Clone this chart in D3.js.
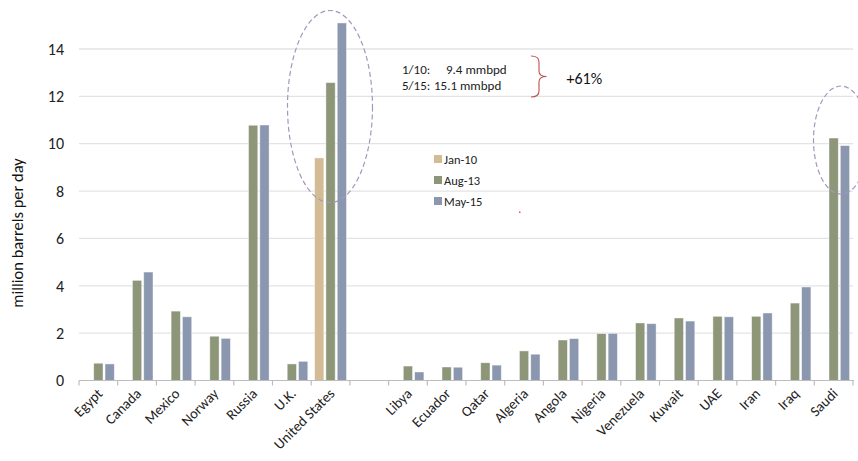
<!DOCTYPE html>
<html>
<head>
<meta charset="utf-8">
<script src="https://cdn.jsdelivr.net/npm/d3@7"></script>
<style>
  html, body { margin: 0; padding: 0; background: #fff; }
  svg { display: block; font-family: Carlito, Lato, "Open Sans", sans-serif; }
</style>
</head>
<body>
<svg id="chart" width="858" height="461"></svg>
<script>
// Crude oil production by country, million barrels per day
const categories = ["Egypt", "Canada", "Mexico", "Norway", "Russia", "U.K.", "United States", "",
  "Libya", "Ecuador", "Qatar", "Algeria", "Angola", "Nigeria", "Venezuela", "Kuwait", "UAE", "Iran", "Iraq", "Saudi"];
const seriesNames = ["Jan-10", "Aug-13", "May-15"];
const jan10 = [null, null, null, null, null, null, 9.4, null,
  null, null, null, null, null, null, null, null, null, null, null, null];
const aug13 = [0.73, 4.23, 2.93, 1.87, 10.78, 0.70, 12.58, null,
  0.61, 0.57, 0.75, 1.25, 1.71, 1.98, 2.43, 2.64, 2.71, 2.71, 3.27, 10.24];
const may15 = [0.70, 4.58, 2.69, 1.78, 10.79, 0.81, 15.1, null,
  0.36, 0.56, 0.65, 1.11, 1.77, 1.99, 2.40, 2.51, 2.69, 2.85, 3.95, 9.92];
const yTicks = [0, 2, 4, 6, 8, 10, 12, 14];
const colors = ["#D3BC95", "#8D9679", "#8B97AF"];

const svg = d3.select("#chart");
const plotLeft = 79, plotRight = 853, plotTop = 49, plotBottom = 380.5;

const x = d3.scaleBand().domain(categories.map((c, i) => i)).range([plotLeft, plotRight]).padding(0);
const xs = d3.scaleBand().domain(seriesNames).range([0, x.bandwidth()]).paddingInner(0.18).paddingOuter(0.3);
const y = d3.scaleLinear().domain([0, 14]).range([plotBottom, plotTop]);

// gridlines
svg.append("g").selectAll("line").data(yTicks.filter(t => t > 0)).join("line")
  .attr("x1", plotLeft).attr("x2", plotRight)
  .attr("y1", d => y(d)).attr("y2", d => y(d))
  .attr("stroke", "#E3E3E3").attr("stroke-width", 1.3);

// y tick labels
svg.append("g").selectAll("text").data(yTicks).join("text")
  .attr("x", 64).attr("y", d => y(d)).attr("dy", "0.36em")
  .attr("text-anchor", "end").attr("font-size", 16).attr("fill", "#222")
  .text(d => d);

// y axis title
svg.append("text")
  .attr("transform", "translate(23,233) rotate(-90)")
  .attr("text-anchor", "middle").attr("font-size", 16.5).attr("fill", "#111")
  .text("million barrels per day");

// bars
const seriesData = [jan10, aug13, may15];
seriesData.forEach((vals, si) => {
  svg.append("g").selectAll("rect")
    .data(vals.map((v, i) => ({ v, i })).filter(d => d.v != null))
    .join("rect")
    .attr("x", d => x(d.i) + xs(seriesNames[si]))
    .attr("width", xs.bandwidth())
    .attr("y", d => y(d.v))
    .attr("height", d => y(0) - y(d.v))
    .attr("fill", colors[si])
    .attr("stroke", "rgba(255,255,255,0.55)").attr("stroke-width", 0.8);
});

// x axis line and boundary ticks
svg.append("line").attr("x1", plotLeft).attr("x2", plotRight + 1)
  .attr("y1", y(0)).attr("y2", y(0)).attr("stroke", "#BDBDBD").attr("stroke-width", 1.2);
const bounds = categories.map((c, i) => x(i)).concat([plotRight]);
svg.append("g").selectAll("line").data(bounds).join("line")
  .attr("x1", d => d).attr("x2", d => d)
  .attr("y1", y(0)).attr("y2", y(0) + 5)
  .attr("stroke", "#BDBDBD").attr("stroke-width", 1.2);

// x labels
svg.append("g").selectAll("text").data(categories.map((c, i) => ({ c, i })).filter(d => d.c)).join("text")
  .attr("transform", d => `translate(${x(d.i) + x.bandwidth() / 2 + 5},${y(0) + 14}) rotate(-45)`)
  .attr("text-anchor", "end").attr("font-size", 14.5).attr("fill", "#222")
  .text(d => d.c);

// legend
const lg = svg.append("g").attr("transform", "translate(434,155)");
seriesNames.forEach((s, i) => {
  lg.append("rect").attr("x", 0).attr("y", i * 21).attr("width", 8).attr("height", 8)
    .attr("fill", colors[i]);
  lg.append("text").attr("x", 10).attr("y", i * 21 + 4).attr("dy", "0.36em")
    .attr("font-size", 12.5).attr("fill", "#222").text(s);
});

// callout on US growth
const usIdx = categories.indexOf("United States");
const usStart = jan10[usIdx], usEnd = may15[usIdx];
const ann = svg.append("g").attr("font-size", 13).attr("fill", "#222");
ann.append("text").attr("x", 402).attr("y", 74).text("1/10:");
ann.append("text").attr("x", 446).attr("y", 74).text(usStart.toFixed(1) + " mmbpd");
ann.append("text").attr("x", 402).attr("y", 90).text("5/15:");
ann.append("text").attr("x", 434).attr("y", 90).text(usEnd.toFixed(1) + " mmbpd");

svg.append("path")
  .attr("d", "M531,56 Q539,56 539,62 L539,71 Q539,76.5 546.5,76.5 Q539,76.5 539,82 L539,91 Q539,97 531,97")
  .attr("fill", "none").attr("stroke", "#C0504D").attr("stroke-width", 1.1);

svg.append("text").attr("x", 566.5).attr("y", 84).attr("font-size", 16).attr("fill", "#111")
  .text("+" + Math.round((usEnd / usStart - 1) * 100) + "%");

// dashed highlight ellipses
svg.append("ellipse").attr("cx", 330).attr("cy", 106.5).attr("rx", 42.5).attr("ry", 96)
  .attr("fill", "none").attr("stroke", "#A496BF").attr("stroke-width", 1.2).attr("stroke-dasharray", "5,3");
svg.append("ellipse").attr("cx", 841).attr("cy", 140).attr("rx", 27.5).attr("ry", 54)
  .attr("fill", "none").attr("stroke", "#A496BF").attr("stroke-width", 1.2).attr("stroke-dasharray", "5,3");

// stray mark
svg.append("rect").attr("x", 519).attr("y", 211.5).attr("width", 1.5).attr("height", 1.5).attr("fill", "#E05050");
</script>
</body>
</html>
